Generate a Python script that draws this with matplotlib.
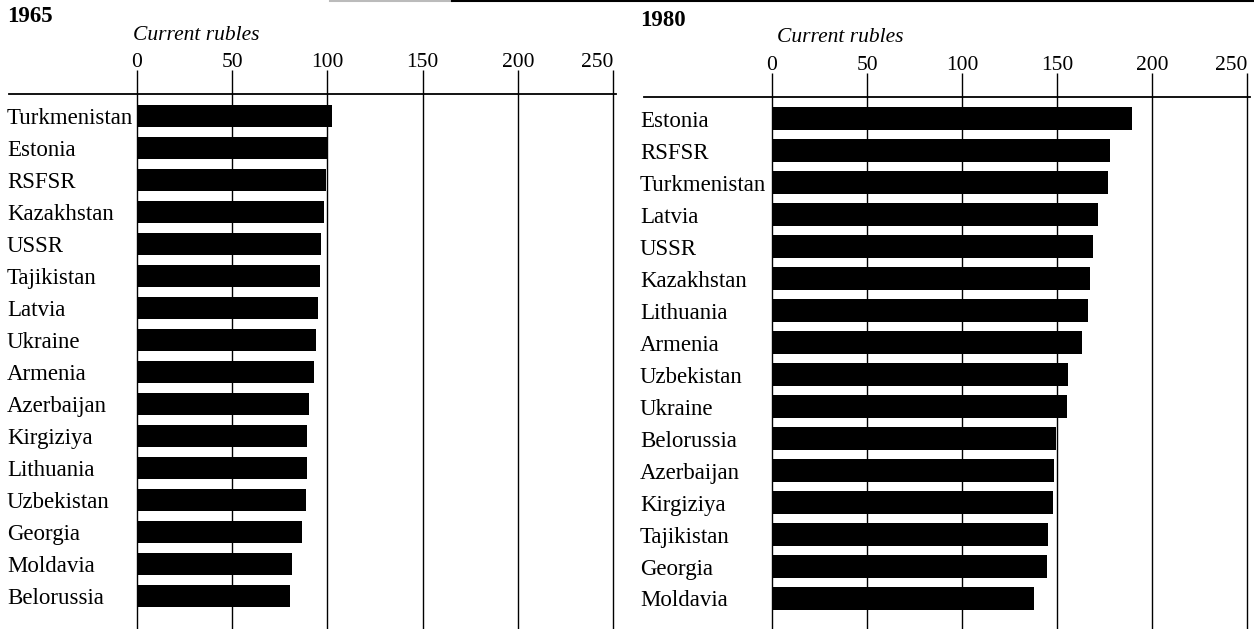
import numpy as np
import matplotlib.pyplot as plt
from matplotlib.lines import Line2D

# data (current rubles)
regions_1965 = ['Turkmenistan', 'Estonia', 'RSFSR', 'Kazakhstan', 'USSR', 'Tajikistan',
                'Latvia', 'Ukraine', 'Armenia', 'Azerbaijan', 'Kirgiziya', 'Lithuania',
                'Uzbekistan', 'Georgia', 'Moldavia', 'Belorussia']
values_1965 = [102.4, 100.0, 99.3, 98.1, 96.5, 96.2, 95.0, 93.9, 92.8, 90.2, 89.5, 89.5,
               88.8, 86.6, 81.5, 80.4]

regions_1980 = ['Estonia', 'RSFSR', 'Turkmenistan', 'Latvia', 'USSR', 'Kazakhstan',
                'Lithuania', 'Armenia', 'Uzbekistan', 'Ukraine', 'Belorussia', 'Azerbaijan',
                'Kirgiziya', 'Tajikistan', 'Georgia', 'Moldavia']
values_1980 = [189.5, 178.0, 176.7, 171.6, 169.1, 167.5, 166.3, 163.2, 155.8, 155.1, 149.6,
               148.2, 147.7, 145.4, 144.9, 137.9]

xticks = [0, 50, 100, 150, 200, 250]

plt.rcParams['font.family'] = ['Liberation Serif', 'DejaVu Serif']

W, H = 1254, 629
fig = plt.figure(figsize=(W / 100, H / 100), dpi=100)


def panel(x0, x1, ytop, ycenter0, xline0, xlabel, year, year_y, sub_x, sub_y, names, vals):
    ax = fig.add_axes([x0 / W, 0, (x1 - x0) / W, 1 - ytop / H])
    pitch = 32.0
    pos = np.arange(len(names))
    ax.barh(pos, vals, height=0.69, color='black', zorder=3)
    ax.set_xlim(0, 250)
    ax.set_ylim((H - ycenter0) / pitch, -(ycenter0 - ytop) / pitch)
    ax.xaxis.tick_top()
    ax.set_xticks(xticks)
    labels = ax.set_xticklabels([str(t) for t in xticks], fontsize=15.5)
    labels[-1].set_ha('right')
    ax.tick_params(axis='x', length=17, width=1, color='black', pad=-1.5)
    ax.set_yticks(pos)
    ax.set_yticklabels(names, fontsize=16.5, ha='left')
    ax.tick_params(axis='y', length=0, pad=(x0 - xlabel) * 0.72)
    for s in ['left', 'right', 'bottom', 'top']:
        ax.spines[s].set_visible(False)
    for t in xticks:
        ax.axvline(t, color='black', lw=1, zorder=2, clip_on=False)
    fig.add_artist(Line2D([xline0 / W, (x1 + 3) / W], [1 - ytop / H, 1 - ytop / H],
                          color='black', lw=1.3))
    fig.text(xlabel / W, 1 - year_y / H, year, fontsize=16.5, fontweight='bold',
             ha='left', va='center')
    fig.text(sub_x / W, 1 - sub_y / H, 'Current rubles', fontsize=15.5, style='italic',
             ha='left', va='center')
    return ax


panel(137, 613, 94, 116, 9, 7, '1965', 17, 133, 35, regions_1965, values_1965)
panel(772, 1247, 97, 118.5, 644, 640, '1980', 20, 777, 38, regions_1980, values_1980)

# rule at the top edge of the page
fig.add_artist(Line2D([330 / W, 452 / W], [1 - 1 / H, 1 - 1 / H], color='#bbbbbb', lw=1.5))
fig.add_artist(Line2D([452 / W, 1.0], [1 - 1 / H, 1 - 1 / H], color='black', lw=1.5))

fig.savefig('out.png', dpi=100)
